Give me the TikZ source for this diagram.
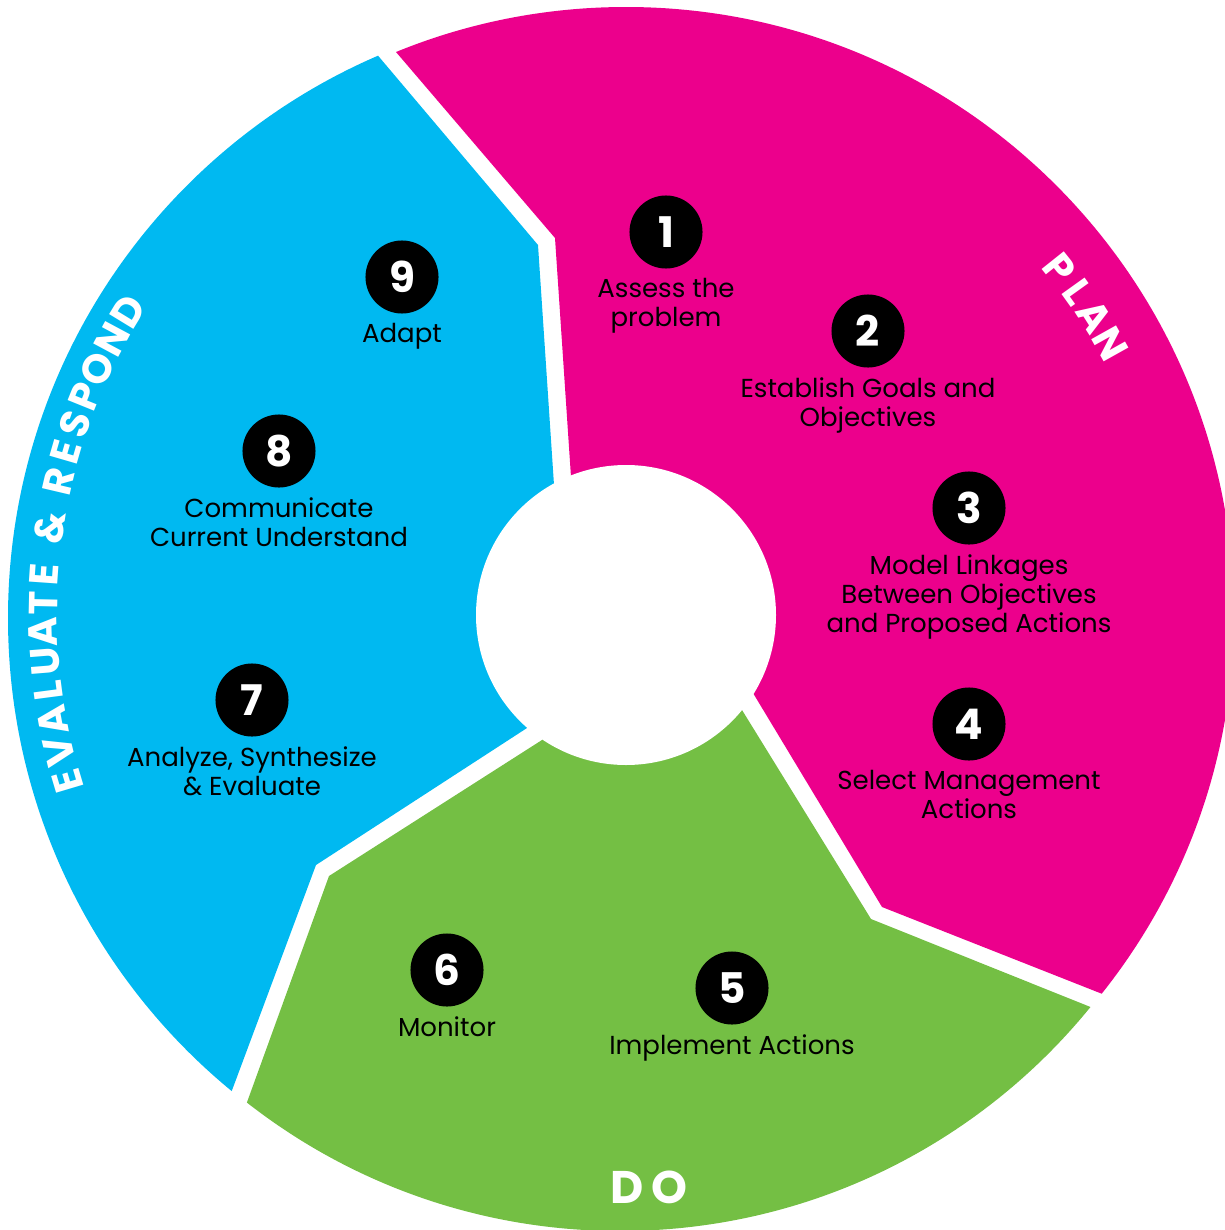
\documentclass[tikz,border=0pt]{standalone}
\usepackage{fontspec}
\setmainfont{Poppins}
\usetikzlibrary{positioning}
\usepackage{xcolor}

\definecolor{planpink}{HTML}{EC008C}
\definecolor{dogreen}{HTML}{74BF44}
\definecolor{evalcyan}{HTML}{00B9F1}

\begin{document}
\begin{tikzpicture}[x=0.01cm, y=0.01cm,
        stepnum/.style={
            circle, fill=black, text=white,
            minimum size=0.73cm, % Adjust circle size here
            inner sep=0pt,
            font=\fontsize{12}{12}\selectfont\bfseries
        },
        steptext/.style={
            align=center, inner sep=0pt,
            font=\fontsize{7.4}{8.3}\selectfont
        },
        phaseletter/.style={
            text=white, inner sep=0pt,
            font=\fontsize{11.5}{11.5}\selectfont\bfseries
        }
    ]
\useasboundingbox (0,0) rectangle (1225,-1230);

% PLAN sector
\begin{scope}
    \clip (237,134) -- (396,-52) -- (555,-238) -- (571,-477) -- (626,-615)
        -- (753,-693) -- (882,-907) -- (1105,-995) -- (1330,-1084)
        -- (1500,-1084) -- (1500,200) -- cycle;
    \fill[planpink] (626,-615) circle[radius=608];
\end{scope}

% DO sector
\begin{scope}
    \clip (626,-615) -- (742,-710) -- (871,-919) -- (1093,-1008) -- (1315,-1097)
        -- (1315,-1400) -- (100,-1400) -- (163,-1334) -- (246,-1105)
        -- (329,-876) -- (542,-740) -- cycle;
    \fill[dogreen] (620,-625) circle[radius=606];
\end{scope}

% EVALUATE & RESPOND sector
\begin{scope}
    \clip (626,-615) -- (527,-728) -- (316,-865) -- (231,-1093) -- (146,-1321)
        -- (-300,-1321) -- (-300,129) -- (222,129) -- (380,-58)
        -- (538,-245) -- (554,-485) -- cycle;
    \fill[evalcyan] (620,-618) circle[radius=612];
\end{scope}

% hole in the middle
\fill[white] (626,-615) circle[radius=150];

% Steps
\node[stepnum] (s1) at (666,-232) {1};
\node[steptext, below=2.4pt of s1] (t1) {Assess the\\problem};

\node[stepnum] (s2) at (868,-331) {2};
\node[steptext, below=2.4pt of s2] (t2) {Establish Goals and\\Objectives};

\node[stepnum] (s3) at (969,-508) {3};
\node[steptext, below=2.4pt of s3] (t3) {Model Linkages\\Between Objectives\\and Proposed Actions};

\node[stepnum] (s4) at (969,-724) {4};
\node[steptext, below=2.4pt of s4] (t4) {Select Management\\Actions};

\node[stepnum] (s5) at (732,-988) {5};
\node[steptext, below=2.4pt of s5] (t5) {Implement Actions};

\node[stepnum] (s6) at (447,-970) {6};
\node[steptext, below=2.4pt of s6] (t6) {Monitor};

\node[stepnum] (s7) at (252,-700) {7};
\node[steptext, below=2.4pt of s7] (t7) {Analyze, Synthesize\\\& Evaluate};

\node[stepnum] (s8) at (279,-451) {8};
\node[steptext, below=2.4pt of s8] (t8) {Communicate\\Current Understand};

\node[stepnum] (s9) at (402,-277) {9};
\node[steptext, below=2.4pt of s9] (t9) {Adapt};

% Phase names round the ring
\begin{scope}[shift={(626,-615)}]
    \foreach \ch/\ang [count=\i] in {E/196.6, V/193.5, A/190.4, L/187.5, U/184.6,
            A/181.7, T/178.8, E/176.0, \&/171.4, R/166.8, E/163.8, S/160.9,
            P/158.0, O/155.0, N/151.8, D/148.6}
        \node[phaseletter, rotate=\ang-90] (er\i) at (\ang:583) {\ch};
    \foreach \ch/\ang [count=\i] in {P/38.6, L/35.6, A/32.5, N/29.2}
        \node[phaseletter, rotate=\ang-90] (pl\i) at (\ang:555) {\ch};
\end{scope}
\node[phaseletter, font=\fontsize{13}{13}\selectfont\bfseries] (do) at (649,-1187) {D\kern2pt O};

\end{tikzpicture}
\end{document}
